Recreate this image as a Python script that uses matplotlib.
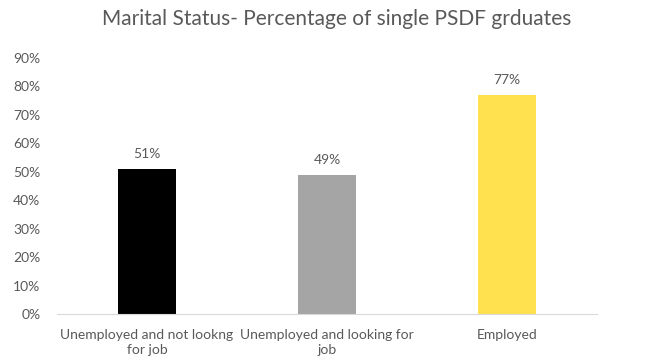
import matplotlib.pyplot as plt
from matplotlib.ticker import PercentFormatter

plt.rcParams['font.family'] = ['Lato', 'DejaVu Sans']

categories = ["Unemployed and not lookng\nfor job", "Unemployed and looking for\njob", "Employed"]
values = [0.51, 0.49, 0.77]
colors = ["#000000", "#a5a5a5", "#ffe14f"]
yticks = [0.0, 0.1, 0.2, 0.3, 0.4, 0.5, 0.6, 0.7, 0.8, 0.9]

text_color = "#595959"

fig = plt.figure(figsize=(6.49, 3.62), dpi=100)
ax = fig.add_axes([57 / 649, 1 - 314 / 362, 540 / 649, 256 / 362])

x = range(len(categories))
bars = ax.bar(x, values, width=0.32, color=colors)

for b, v in zip(bars, values):
    ax.text(b.get_x() + b.get_width() / 2, v + 0.03, f"{v:.0%}",
            ha="center", va="bottom", fontsize=10, color=text_color)

ax.set_xlim(-0.5, len(categories) - 0.5)
ax.set_ylim(0, 0.9)
ax.set_yticks(yticks)
ax.yaxis.set_major_formatter(PercentFormatter(1.0, decimals=0))
ax.set_xticks(list(x))
ax.set_xticklabels(categories, linespacing=1.3)

ax.tick_params(axis="both", length=0, labelsize=10, labelcolor=text_color)
ax.tick_params(axis="x", pad=11)
ax.tick_params(axis="y", pad=12)

for s in ["top", "right", "left"]:
    ax.spines[s].set_visible(False)
ax.spines["bottom"].set_color("#d9d9d9")

fig.suptitle("Marital Status- Percentage of single PSDF grduates",
             x=0.519, y=0.975, fontsize=15, color=text_color)

fig.savefig("out.png", dpi=100)
